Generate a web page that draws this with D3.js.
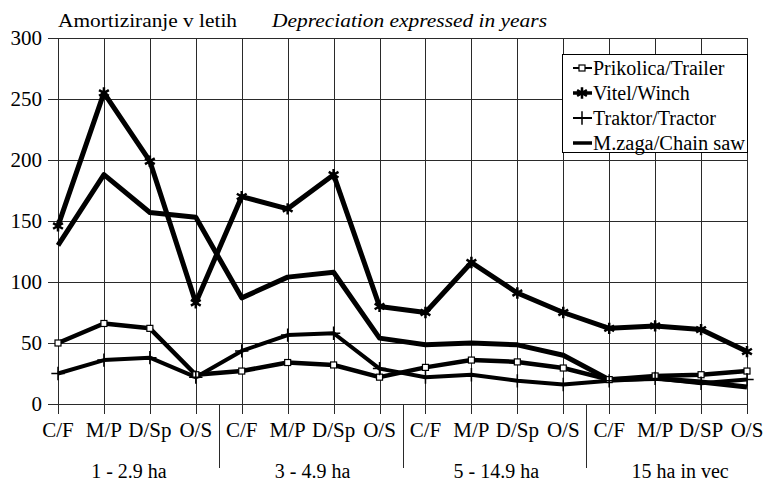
<!DOCTYPE html>
<html>
<head>
<meta charset="utf-8">
<script src="https://cdn.jsdelivr.net/npm/d3@7"></script>
<style>
  body { margin: 0; background: #fff; }
  svg text { font-family: "Liberation Serif", "Times New Roman", Times, "DejaVu Serif", "Noto Serif", serif; }
</style>
</head>
<body>
<script>
// Categories: 4 farm size groups x 4 sub-categories
const groups = ["1 - 2.9 ha", "3 - 4.9 ha", "5 - 14.9 ha", "15 ha in vec"];
const categories = [
  "C/F", "M/P", "D/Sp", "O/S",
  "C/F", "M/P", "D/Sp", "O/S",
  "C/F", "M/P", "D/Sp", "O/S",
  "C/F", "M/P", "D/SP", "O/S"
];
const yTicks = [0, 50, 100, 150, 200, 250, 300];

// Series values (years)
const trailer  = [50, 66, 62, 24, 27, 34, 32, 22, 30, 36, 34.5, 29.5, 20, 23, 24, 27];
const winch    = [146, 255, 199, 83, 170, 160, 188, 80, 75, 116, 91, 75, 62, 64, 61, 43];
const tractor  = [25, 36, 38, 22, 43.5, 56.5, 58, 29, 22, 24, 19, 16, 19, 21, 17, 20];
const chainsaw = [130, 188, 157, 153, 87, 104, 108, 54, 48.5, 50, 48.5, 40, 20, 21, 18, 14];

const seriesNames = ["Prikolica/Trailer", "Vitel/Winch", "Traktor/Tractor", "M.zaga/Chain saw"];

const W = 766, H = 481;
const X0 = 58, X1 = 747, Y0 = 404, Y1 = 38;

const svg = d3.select("body").append("svg")
  .attr("width", W)
  .attr("height", H);

const x = d3.scalePoint()
  .domain(d3.range(categories.length))
  .range([X0, X1]);
const y = d3.scaleLinear()
  .domain([0, 300])
  .range([Y0, Y1]);
const step = x.step();

/* Grid */
const grid = svg.append("g").attr("stroke", "#2a2a2a").attr("stroke-width", 1);
grid.selectAll(".hline")
  .data(yTicks)
  .enter().append("line")
    .attr("x1", X0 - 10).attr("x2", X1)
    .attr("y1", d => y(d) + 0.5).attr("y2", d => y(d) + 0.5);
grid.selectAll(".vline")
  .data(d3.range(categories.length))
  .enter().append("line")
    .attr("x1", d => Math.round(x(d)) + 0.5).attr("x2", d => Math.round(x(d)) + 0.5)
    .attr("y1", Y1).attr("y2", Y0 + 10);
// Separators between the farm size groups
grid.selectAll(".sep")
  .data([1, 2, 3])
  .enter().append("line")
    .attr("x1", d => Math.round(x(d * 4) - step / 2) + 0.5)
    .attr("x2", d => Math.round(x(d * 4) - step / 2) + 0.5)
    .attr("y1", Y0).attr("y2", 468);

/* Axis labels */
svg.append("g").selectAll("text")
  .data(yTicks)
  .enter().append("text")
    .attr("x", 42)
    .attr("y", d => y(d) + 7)
    .attr("text-anchor", "end")
    .attr("font-size", 21)
    .text(d => d);
svg.append("g").selectAll("text")
  .data(categories)
  .enter().append("text")
    .attr("x", (d, i) => x(i))
    .attr("y", 437)
    .attr("text-anchor", "middle")
    .attr("font-size", 21)
    .text(d => d);
svg.append("g").selectAll("text")
  .data(groups)
  .enter().append("text")
    .attr("x", (d, i) => (x(i * 4 + 1) + x(i * 4 + 2)) / 2 + 2)
    .attr("y", 478)
    .attr("text-anchor", "middle")
    .attr("font-size", 20)
    .text(d => d);

/* Titles */
svg.append("text")
  .attr("x", 58).attr("y", 27)
  .attr("font-size", 19)
  .attr("textLength", 179)
  .attr("lengthAdjust", "spacingAndGlyphs")
  .text("Amortiziranje v letih");
svg.append("text")
  .attr("x", 272).attr("y", 27)
  .attr("font-size", 19)
  .attr("font-style", "italic")
  .attr("textLength", 275)
  .attr("lengthAdjust", "spacingAndGlyphs")
  .text("Depreciation expressed in years");

/* Series */
const series = [
  { name: seriesNames[0], values: trailer, width: 4.5, marker: "square" },
  { name: seriesNames[1], values: winch, width: 5, marker: "star" },
  { name: seriesNames[2], values: tractor, width: 4, marker: "plus" },
  { name: seriesNames[3], values: chainsaw, width: 5, marker: null }
];

const line = d3.line()
  .x((d, i) => x(i))
  .y(d => y(d));

function drawMarker(g, type, cx, cy) {
  if (type === "square") {
    g.append("rect")
      .attr("x", cx - 3).attr("y", cy - 3)
      .attr("width", 6).attr("height", 6)
      .attr("fill", "#fff").attr("stroke", "#000").attr("stroke-width", 1.2);
  } else if (type === "star") {
    g.append("path")
      .attr("transform", `translate(${cx},${cy})`)
      .attr("d", d3.symbol().type(d3.symbolAsterisk).size(90)())
      .attr("fill", "none").attr("stroke", "#000").attr("stroke-width", 2.5);
  } else if (type === "plus") {
    g.append("path")
      .attr("transform", `translate(${cx},${cy})`)
      .attr("d", d3.symbol().type(d3.symbolPlus).size(60)())
      .attr("fill", "none").attr("stroke", "#000").attr("stroke-width", 1.5);
  }
}

const plot = svg.append("g");
series.forEach(s => {
  plot.append("path")
    .datum(s.values)
    .attr("d", line)
    .attr("fill", "none")
    .attr("stroke", "#000")
    .attr("stroke-width", s.width)
    .attr("stroke-linejoin", "round");
});
series.forEach(s => {
  if (!s.marker) return;
  const g = plot.append("g");
  s.values.forEach((v, i) => drawMarker(g, s.marker, x(i), y(v)));
});

/* Legend */
const LEG_X = 562, LEG_Y = 54, LEG_W = X1 - LEG_X, LEG_H = 98;
const legend = svg.append("g");
legend.append("rect")
  .attr("x", LEG_X + 0.5).attr("y", LEG_Y + 0.5)
  .attr("width", LEG_W).attr("height", LEG_H)
  .attr("fill", "#fff").attr("stroke", "#000").attr("stroke-width", 1);
series.forEach((s, i) => {
  const cy = LEG_Y + 14 + i * 25;
  legend.append("line")
    .attr("x1", 573).attr("x2", 592)
    .attr("y1", cy).attr("y2", cy)
    .attr("stroke", "#000")
    .attr("stroke-width", s.marker === "plus" || s.marker === "square" ? 2 : 3.5);
  if (s.marker) drawMarker(legend, s.marker, 582, cy);
  legend.append("text")
    .attr("x", 593).attr("y", cy + 7)
    .attr("font-size", 20)
    .attr("textLength", s.name === "M.zaga/Chain saw" ? 152 : null)
    .attr("lengthAdjust", "spacingAndGlyphs")
    .text(s.name);
});
</script>
</body>
</html>
